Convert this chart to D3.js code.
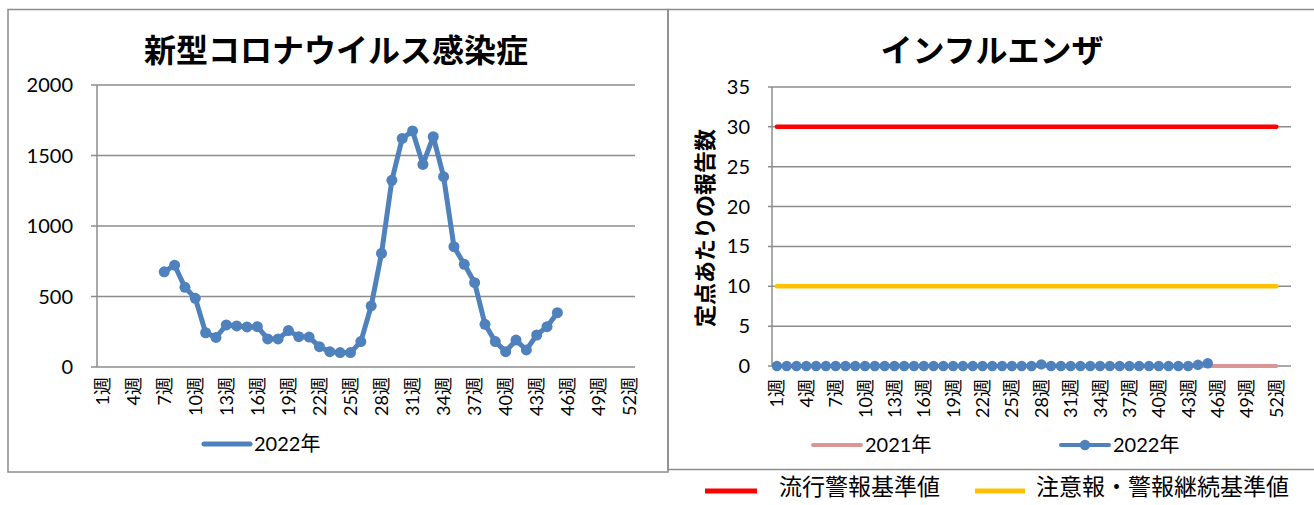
<!DOCTYPE html>
<html><head><meta charset="utf-8">
<script src="https://cdn.jsdelivr.net/npm/d3@7"></script>
<style>
html,body{margin:0;padding:0;background:#fff;}
svg{display:block;}
</style></head>
<body>
<svg id="c" width="1314" height="505"></svg>
<script>
// ---- data ----
const weeks = d3.range(1, 53);                 // 1..52
const weekLabels = weeks.filter(w => (w - 1) % 3 === 0).map(w => w + "週");
const covidWeeks = d3.range(7, 46);            // 7..45
const covid2022 = [675, 722, 565, 487, 243, 210, 298, 291, 284, 286, 199, 199, 258, 215, 212, 144, 109, 102, 102,
  180, 433, 806, 1324, 1621, 1674, 1437, 1633, 1350, 853, 728, 598, 303, 180, 109, 191, 121, 227, 286, 385];
const fluWeeks2022 = d3.range(1, 46);          // 1..45
const flu2022 = [0,0,0,0,0,0,0,0,0,0, 0,0,0,0,0,0,0,0,0,0, 0,0,0,0,0,0,0,0.2,0,0, 0,0,0,0,0,0,0,0,0,0, 0,0,0,0.15,0.35];
const flu2021 = weeks.map(() => 0);
const alertLevel = 30;      // 流行警報基準値
const warnLevel = 10;       // 注意報・警報継続基準値
const covidTicks = [0, 500, 1000, 1500, 2000];
const fluTicks = [0, 5, 10, 15, 20, 25, 30, 35];

const BLUE = "#4F81BD", PINK = "#D99694", RED = "#FF0000", YEL = "#FFC000", GRID = "#8c8c8c";
const NUMF = "Lato, 'Noto Sans CJK JP', sans-serif";
const JPF = "'Noto Sans CJK JP', sans-serif";

const svg = d3.select("#c");

// chart boxes
svg.append("rect").attr("x", 8).attr("y", 9.5).attr("width", 660).attr("height", 462.5)
  .attr("fill", "none").attr("stroke", GRID).attr("stroke-width", 1.5);
svg.append("rect").attr("x", 668).attr("y", 9.5).attr("width", 660).attr("height", 460)
  .attr("fill", "none").attr("stroke", GRID).attr("stroke-width", 1.5);

function xLabels(g, x, yTop) {
  g.selectAll("text.xl").data(weekLabels).join("text")
    .attr("class", "xl")
    .attr("transform", d => `translate(${x(+d.replace("週", "")) + x.bandwidth() / 2},${yTop}) rotate(-90)`)
    .attr("text-anchor", "end").attr("dy", "0.36em")
    .attr("font-family", NUMF).attr("font-size", 18).attr("fill", "#000")
    .text(d => d);
}

// ---------- Left: COVID ----------
{
  const g = svg.append("g");
  const x = d3.scaleBand().domain(weeks).range([97, 635]);
  const y = d3.scaleLinear().domain([0, 2000]).range([367, 85]);
  g.append("text").attr("x", 336).attr("y", 62).attr("text-anchor", "middle")
    .attr("font-family", JPF).attr("font-weight", "bold").attr("font-size", 32).text("新型コロナウイルス感染症");
  // grid
  g.selectAll("line.gr").data(covidTicks).join("line")
    .attr("x1", 91).attr("x2", 635).attr("y1", d => y(d)).attr("y2", d => y(d))
    .attr("stroke", GRID).attr("stroke-width", 1.5);
  g.append("line").attr("x1", 97).attr("x2", 97).attr("y1", y(2000)).attr("y2", y(0))
    .attr("stroke", GRID).attr("stroke-width", 1.5);
  g.selectAll("text.yl").data(covidTicks).join("text")
    .attr("x", 73).attr("y", d => y(d)).attr("dy", "0.35em").attr("text-anchor", "end")
    .attr("font-family", NUMF).attr("font-size", 20).text(d => d);
  xLabels(g, x, 377);
  const cx = w => x(w) + x.bandwidth() / 2;
  const pts = covidWeeks.map((w, i) => [cx(w), y(covid2022[i])]);
  g.append("path").attr("d", d3.line()(pts)).attr("fill", "none").attr("stroke", BLUE)
    .attr("stroke-width", 5).attr("stroke-linejoin", "round");
  g.selectAll("circle").data(pts).join("circle").attr("cx", d => d[0]).attr("cy", d => d[1])
    .attr("r", 5.5).attr("fill", BLUE);
  // legend
  g.append("line").attr("x1", 204).attr("x2", 250).attr("y1", 444).attr("y2", 444)
    .attr("stroke", BLUE).attr("stroke-width", 5).attr("stroke-linecap", "round");
  g.append("text").attr("x", 254).attr("y", 444).attr("dy", "0.35em")
    .attr("font-family", NUMF).attr("font-size", 20).text("2022年");
}

// ---------- Right: Influenza ----------
{
  const g = svg.append("g");
  const x = d3.scaleBand().domain(d3.range(1, 54)).range([772, 1291]);
  const y = d3.scaleLinear().domain([0, 35]).range([366, 87]);
  g.append("text").attr("x", 992).attr("y", 62).attr("text-anchor", "middle")
    .attr("font-family", JPF).attr("font-weight", "bold").attr("font-size", 32).text("インフルエンザ");
  g.selectAll("line.gr").data(fluTicks).join("line")
    .attr("x1", 768).attr("x2", 1291).attr("y1", d => y(d)).attr("y2", d => y(d))
    .attr("stroke", GRID).attr("stroke-width", 1.5);
  g.append("line").attr("x1", 772).attr("x2", 772).attr("y1", y(35)).attr("y2", y(0))
    .attr("stroke", GRID).attr("stroke-width", 1.5);
  g.selectAll("text.yl").data(fluTicks).join("text")
    .attr("x", 750).attr("y", d => y(d)).attr("dy", "0.35em").attr("text-anchor", "end")
    .attr("font-family", NUMF).attr("font-size", 20).text(d => d);
  g.append("text").attr("transform", "translate(705,228) rotate(-90)").attr("text-anchor", "middle")
    .attr("dy", "0.35em").attr("font-family", JPF).attr("font-weight", "bold").attr("font-size", 22)
    .text("定点あたりの報告数");
  xLabels(g, x, 379);
  const cx = w => x(w) + x.bandwidth() / 2;
  const hline = (v, col) => g.append("path")
    .attr("d", d3.line()(weeks.map(w => [cx(w), y(v)])))
    .attr("fill", "none").attr("stroke", col).attr("stroke-width", 4.5).attr("stroke-linecap", "round");
  hline(alertLevel, RED);
  hline(warnLevel, YEL);
  g.append("path").attr("d", d3.line()(weeks.map((w, i) => [cx(w), y(flu2021[i])])))
    .attr("fill", "none").attr("stroke", PINK).attr("stroke-width", 4).attr("stroke-linecap", "round");
  const pts = fluWeeks2022.map((w, i) => [cx(w), y(flu2022[i])]);
  g.append("path").attr("d", d3.line()(pts)).attr("fill", "none").attr("stroke", BLUE).attr("stroke-width", 4);
  g.selectAll("circle.p").data(pts).join("circle").attr("cx", d => d[0]).attr("cy", d => d[1])
    .attr("r", 5.2).attr("fill", BLUE);
  // legends
  g.append("line").attr("x1", 813).attr("x2", 861).attr("y1", 445).attr("y2", 445)
    .attr("stroke", PINK).attr("stroke-width", 4).attr("stroke-linecap", "round");
  g.append("text").attr("x", 865).attr("y", 445).attr("dy", "0.35em")
    .attr("font-family", NUMF).attr("font-size", 20).text("2021年");
  g.append("line").attr("x1", 1061).attr("x2", 1109).attr("y1", 445).attr("y2", 445)
    .attr("stroke", BLUE).attr("stroke-width", 4).attr("stroke-linecap", "round");
  g.append("circle").attr("cx", 1085).attr("cy", 445).attr("r", 5.2).attr("fill", BLUE);
  g.append("text").attr("x", 1113).attr("y", 445).attr("dy", "0.35em")
    .attr("font-family", NUMF).attr("font-size", 20).text("2022年");
}

// ---------- bottom legend ----------
{
  const g = svg.append("g");
  const items = [
    { label: "流行警報基準値", color: RED, x1: 705, x2: 757, tx: 779 },
    { label: "注意報・警報継続基準値", color: YEL, x1: 975, x2: 1025, tx: 1036 }
  ];
  items.forEach(it => {
    g.append("line").attr("x1", it.x1).attr("x2", it.x2).attr("y1", 491).attr("y2", 491)
      .attr("stroke", it.color).attr("stroke-width", 5);
    g.append("text").attr("x", it.tx).attr("y", 487).attr("dy", "0.36em")
      .attr("font-family", JPF).attr("font-size", 23).text(it.label);
  });
}
</script>
</body></html>
